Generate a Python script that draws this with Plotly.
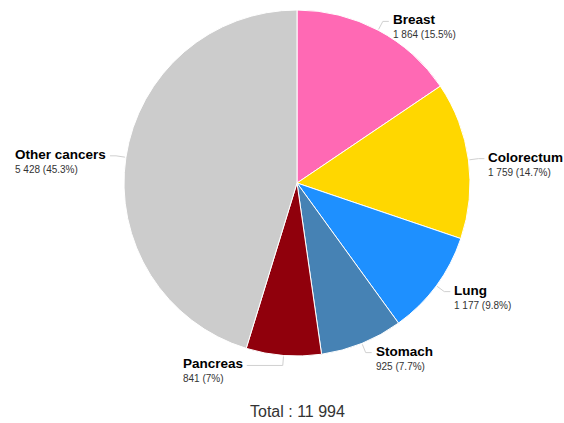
import math
import plotly.graph_objects as go

categories = ["Breast", "Colorectum", "Lung", "Stomach", "Pancreas", "Other cancers"]
values = [1864, 1759, 1177, 925, 841, 5428]
colors = ["#FF69B4", "#FFD700", "#1E90FF", "#4682B4", "#90000C", "#CCCCCC"]

# extra horizontal connector length per label (label layout styling)
connector_extra = {"Pancreas": 30}

W, H = 564, 423
CX, CY, R = 297, 183, 173

total = sum(values)


def fmt_num(v):
    return f"{v:,}".replace(",", " ")


def fmt_pct(v):
    p = round(100 * v / total, 1)
    s = f"{p:.1f}"
    if s.endswith(".0"):
        s = s[:-2]
    return s + "%"


fig = go.Figure(go.Pie(
    labels=categories,
    values=values,
    marker=dict(colors=colors, line=dict(color="white", width=1)),
    sort=False,
    direction="clockwise",
    rotation=0,
    textinfo="none",
    hoverinfo="label+value+percent",
    domain=dict(x=[(CX - R) / W, (CX + R) / W], y=[1 - (CY + R) / H, 1 - (CY - R) / H]),
    showlegend=False,
))


def px(x):
    return x / W


def py(y):
    return 1 - y / H


annotations = []
shapes = []
cum = 0
for name, v in zip(categories, values):
    mid = (cum + v / 2) / total * 2 * math.pi
    cum += v
    sx, sy = math.sin(mid), -math.cos(mid)
    ex, ey = CX + (R + 1) * sx, CY + (R + 1) * sy
    ox, oy = CX + (R + 10) * sx, CY + (R + 10) * sy
    right = sx >= 0
    ln = 6 + connector_extra.get(name, 0)
    hx = ox + (ln if right else -ln)
    shapes.append(dict(
        type="path", xref="paper", yref="paper",
        path=f"M {px(ex)} {py(ey)} L {px(ox)} {py(oy)} L {px(hx)} {py(oy)}",
        line=dict(color="#D0D0D0", width=1),
    ))
    tx = hx + (2 if right else -2)
    anchor = "left" if right else "right"
    text = (f"<span style='font-size:13.5px;color:#000000'><b>{name}</b></span><br>"
            f"<span style='font-size:10px;color:#333333'>{fmt_num(v)} ({fmt_pct(v)})</span>")
    annotations.append(dict(
        x=px(tx), y=py(oy - 11), xref="paper", yref="paper",
        text=text, showarrow=False, xanchor=anchor, yanchor="top",
        align="left", font=dict(size=11, color="#333333"),
    ))

annotations.append(dict(
    x=px(CX), y=py(411), xref="paper", yref="paper",
    text=f"Total : {fmt_num(total)}", showarrow=False, xanchor="center", yanchor="middle",
    font=dict(size=16, color="#333333"),
))

fig.update_layout(
    width=W, height=H,
    margin=dict(l=0, r=0, t=0, b=0),
    paper_bgcolor="white",
    plot_bgcolor="white",
    font=dict(family="Liberation Sans, Arial, sans-serif"),
    annotations=annotations,
    shapes=shapes,
)

fig.write_html(
    "out.html",
    config={"displayModeBar": False},
    default_width=f"{W}px",
    default_height=f"{H}px",
    post_script="document.body.style.margin='0px'; document.body.style.overflow='hidden';",
)
